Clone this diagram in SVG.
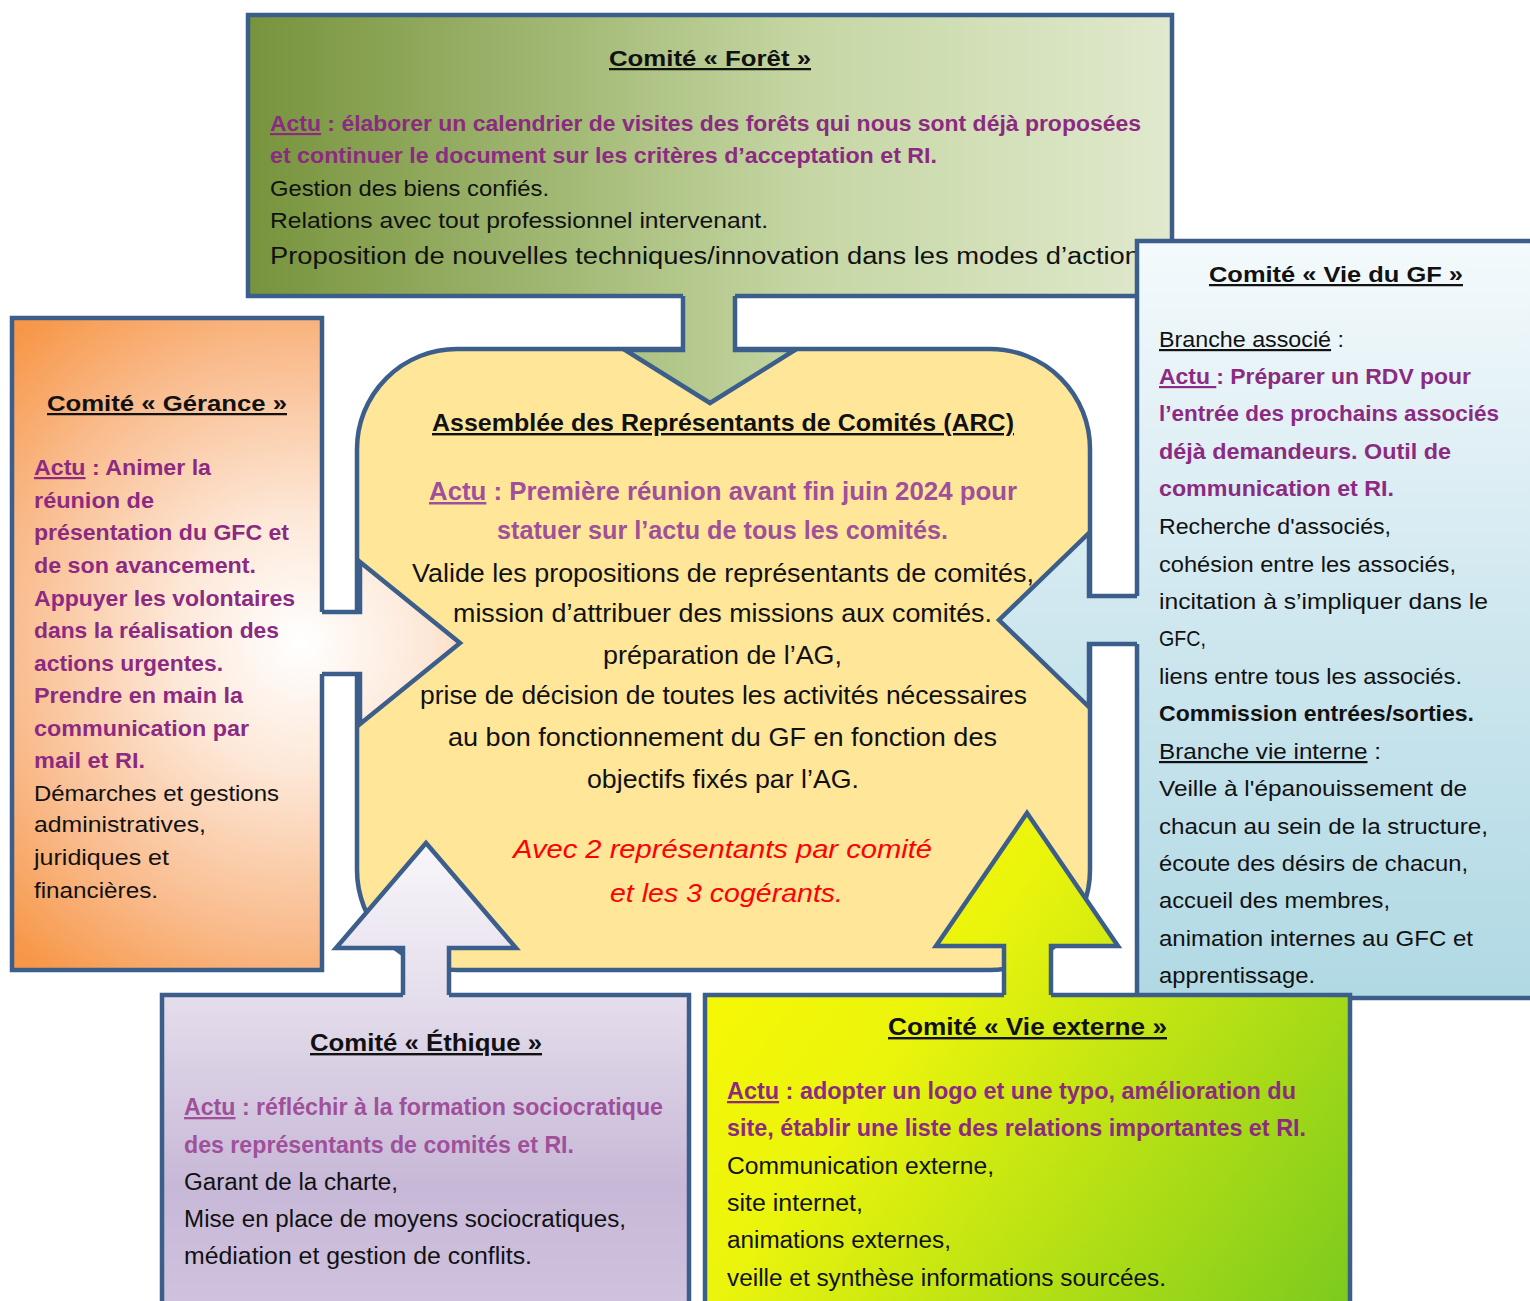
<svg xmlns="http://www.w3.org/2000/svg" width="1530" height="1301" viewBox="0 0 1530 1301">
<defs>
<style>
.t{font-family:"Liberation Sans",Arial,sans-serif;fill:#111}
.b{font-weight:bold}
.p{fill:#8c2a82}
.pl{fill:#a0509a}
.r{fill:#ff0000;font-style:italic}
.u{text-decoration:underline}
.box{stroke:#3c5e8b;stroke-width:4.5}
.ol{fill:none;stroke:#3c5e8b;stroke-width:4.5;stroke-linejoin:miter}
</style>
<linearGradient id="gForet" gradientUnits="userSpaceOnUse" x1="248" y1="0" x2="1172" y2="0">
<stop offset="0" stop-color="#77933c"/>
<stop offset="0.35" stop-color="#a3ba76"/>
<stop offset="0.6" stop-color="#c5d6a3"/>
<stop offset="1" stop-color="#e0e9cd"/>
</linearGradient>
<radialGradient id="gGer" gradientUnits="userSpaceOnUse" cx="300" cy="643" r="420">
<stop offset="0" stop-color="#ffffff"/>
<stop offset="0.3" stop-color="#fde8d8"/>
<stop offset="0.7" stop-color="#f9bb8c"/>
<stop offset="1" stop-color="#f79646"/>
</radialGradient>
<linearGradient id="gVie" gradientUnits="userSpaceOnUse" x1="0" y1="241" x2="0" y2="998">
<stop offset="0" stop-color="#f4fafc"/>
<stop offset="0.5" stop-color="#cfe7ef"/>
<stop offset="1" stop-color="#b0d9e4"/>
</linearGradient>
<linearGradient id="gEth" gradientUnits="userSpaceOnUse" x1="0" y1="843" x2="0" y2="1301">
<stop offset="0" stop-color="#f8f6fa"/>
<stop offset="0.33" stop-color="#e5deec"/>
<stop offset="0.75" stop-color="#c7b8d7"/>
<stop offset="1" stop-color="#cfc2de"/>
</linearGradient>
<linearGradient id="gExt" gradientUnits="userSpaceOnUse" x1="800" y1="900" x2="1350" y2="1301">
<stop offset="0" stop-color="#f5f705"/>
<stop offset="0.25" stop-color="#eaf40c"/>
<stop offset="1" stop-color="#7cca1e"/>
</linearGradient>
</defs>
<rect width="1530" height="1301" fill="#ffffff"/>

<g id="arc-box">
<rect class="box" x="357" y="349" width="733" height="621" rx="100" ry="100" fill="#ffe699"/>
</g>

<g id="comite-foret">
<rect class="box" x="248" y="15" width="924" height="281" fill="url(#gForet)"/>
<text class="t b" x="609" y="66" font-size="22.5" textLength="202" lengthAdjust="spacingAndGlyphs"><tspan class="u">Comité « Forêt »</tspan></text>
<text class="t b p" x="270" y="131" font-size="21.5" textLength="871" lengthAdjust="spacingAndGlyphs"><tspan class="u">Actu</tspan> : élaborer un calendrier de visites des forêts qui nous sont déjà proposées</text>
<text class="t b p" x="270" y="163" font-size="21.5" textLength="667" lengthAdjust="spacingAndGlyphs">et continuer le document sur les critères d’acceptation et RI.</text>
<text class="t" x="270" y="196" font-size="21.5" textLength="279" lengthAdjust="spacingAndGlyphs">Gestion des biens confiés.</text>
<text class="t" x="270" y="228" font-size="21.5" textLength="498" lengthAdjust="spacingAndGlyphs">Relations avec tout professionnel intervenant.</text>
<text class="t" x="270" y="264" font-size="23" textLength="870" lengthAdjust="spacingAndGlyphs">Proposition de nouvelles techniques/innovation dans les modes d’action</text>
</g>

<g id="comite-gerance">
<rect class="box" x="12" y="318" width="310" height="652" fill="url(#gGer)"/>
<text class="t b" x="47" y="411" font-size="22.5" textLength="240" lengthAdjust="spacingAndGlyphs"><tspan class="u">Comité « Gérance »</tspan></text>
<g class="t b p" font-size="22">
<text x="34" y="475" textLength="177" lengthAdjust="spacingAndGlyphs"><tspan class="u">Actu</tspan> : Animer la</text>
<text x="34" y="508" textLength="120" lengthAdjust="spacingAndGlyphs">réunion de</text>
<text x="34" y="540" textLength="255" lengthAdjust="spacingAndGlyphs">présentation du GFC et</text>
<text x="34" y="573" textLength="222" lengthAdjust="spacingAndGlyphs">de son avancement.</text>
<text x="34" y="606" textLength="261" lengthAdjust="spacingAndGlyphs">Appuyer les volontaires</text>
<text x="34" y="638" textLength="245" lengthAdjust="spacingAndGlyphs">dans la réalisation des</text>
<text x="34" y="671" textLength="189" lengthAdjust="spacingAndGlyphs">actions urgentes.</text>
<text x="34" y="703" textLength="209" lengthAdjust="spacingAndGlyphs">Prendre en main la</text>
<text x="34" y="736" textLength="215" lengthAdjust="spacingAndGlyphs">communication par</text>
<text x="34" y="768" textLength="111" lengthAdjust="spacingAndGlyphs">mail et RI.</text>
</g>
<g class="t" font-size="22">
<text x="34" y="801" textLength="245" lengthAdjust="spacingAndGlyphs">Démarches et gestions</text>
<text x="34" y="832" textLength="172" lengthAdjust="spacingAndGlyphs">administratives,</text>
<text x="34" y="865" textLength="135" lengthAdjust="spacingAndGlyphs">juridiques et</text>
<text x="34" y="898" textLength="124" lengthAdjust="spacingAndGlyphs">financières.</text>
</g>
</g>

<g id="comite-vie-du-gf">
<rect class="box" x="1137" y="241" width="400" height="757" fill="url(#gVie)"/>
<text class="t b" x="1209" y="282" font-size="22.5" textLength="254" lengthAdjust="spacingAndGlyphs"><tspan class="u">Comité « Vie du GF »</tspan></text>
<g class="t" font-size="22">
<text x="1159" y="347" textLength="185" lengthAdjust="spacingAndGlyphs"><tspan class="u">Branche associé</tspan> :</text>
<text class="b p" x="1159" y="384" textLength="312" lengthAdjust="spacingAndGlyphs"><tspan class="u">Actu </tspan>: Préparer un RDV pour</text>
<text class="b p" x="1159" y="421" textLength="340" lengthAdjust="spacingAndGlyphs">l’entrée des prochains associés</text>
<text class="b p" x="1159" y="459" textLength="292" lengthAdjust="spacingAndGlyphs">déjà demandeurs. Outil de</text>
<text class="b p" x="1159" y="496" textLength="235" lengthAdjust="spacingAndGlyphs">communication et RI.</text>
<text x="1159" y="534" textLength="232" lengthAdjust="spacingAndGlyphs">Recherche d'associés,</text>
<text x="1159" y="572" textLength="297" lengthAdjust="spacingAndGlyphs">cohésion entre les associés,</text>
<text x="1159" y="609" textLength="329" lengthAdjust="spacingAndGlyphs">incitation à s’impliquer dans le</text>
<text x="1159" y="646" textLength="47" lengthAdjust="spacingAndGlyphs">GFC,</text>
<text x="1159" y="684" textLength="303" lengthAdjust="spacingAndGlyphs">liens entre tous les associés.</text>
<text class="b" x="1159" y="721" textLength="315" lengthAdjust="spacingAndGlyphs">Commission entrées/sorties.</text>
<text x="1159" y="759" textLength="222" lengthAdjust="spacingAndGlyphs"><tspan class="u">Branche vie interne</tspan> :</text>
<text x="1159" y="796" textLength="308" lengthAdjust="spacingAndGlyphs">Veille à l'épanouissement de</text>
<text x="1159" y="834" textLength="329" lengthAdjust="spacingAndGlyphs">chacun au sein de la structure,</text>
<text x="1159" y="871" textLength="309" lengthAdjust="spacingAndGlyphs">écoute des désirs de chacun,</text>
<text x="1159" y="908" textLength="231" lengthAdjust="spacingAndGlyphs">accueil des membres,</text>
<text x="1159" y="946" textLength="314" lengthAdjust="spacingAndGlyphs">animation internes au GFC et</text>
<text x="1159" y="983" textLength="156" lengthAdjust="spacingAndGlyphs">apprentissage.</text>
</g>
</g>

<g id="comite-ethique">
<rect class="box" x="162" y="995" width="527" height="320" fill="url(#gEth)"/>
<text class="t b" x="310" y="1051" font-size="24" textLength="232" lengthAdjust="spacingAndGlyphs"><tspan class="u">Comité « Éthique »</tspan></text>
<text class="t b pl" x="184" y="1115" font-size="23" textLength="479" lengthAdjust="spacingAndGlyphs"><tspan class="u">Actu</tspan> : réfléchir à la formation sociocratique</text>
<text class="t b pl" x="184" y="1153" font-size="23" textLength="390" lengthAdjust="spacingAndGlyphs">des représentants de comités et RI.</text>
<text class="t" x="184" y="1190" font-size="23.5" textLength="214" lengthAdjust="spacingAndGlyphs">Garant de la charte,</text>
<text class="t" x="184" y="1227" font-size="23.5" textLength="442" lengthAdjust="spacingAndGlyphs">Mise en place de moyens sociocratiques,</text>
<text class="t" x="184" y="1264" font-size="23.5" textLength="348" lengthAdjust="spacingAndGlyphs">médiation et gestion de conflits.</text>
</g>

<g id="comite-vie-externe">
<rect class="box" x="705" y="995" width="645" height="320" fill="url(#gExt)"/>
<text class="t b" x="888" y="1035" font-size="24" textLength="279" lengthAdjust="spacingAndGlyphs"><tspan class="u">Comité « Vie externe »</tspan></text>
<text class="t b p" x="727" y="1099" font-size="23" textLength="569" lengthAdjust="spacingAndGlyphs"><tspan class="u">Actu</tspan> : adopter un logo et une typo, amélioration du</text>
<text class="t b p" x="727" y="1136" font-size="23" textLength="579" lengthAdjust="spacingAndGlyphs">site, établir une liste des relations importantes et RI.</text>
<text class="t" x="727" y="1174" font-size="23" textLength="267" lengthAdjust="spacingAndGlyphs">Communication externe,</text>
<text class="t" x="727" y="1211" font-size="23" textLength="136" lengthAdjust="spacingAndGlyphs">site internet,</text>
<text class="t" x="727" y="1248" font-size="23" textLength="224" lengthAdjust="spacingAndGlyphs">animations externes,</text>
<text class="t" x="727" y="1286" font-size="23" textLength="439" lengthAdjust="spacingAndGlyphs">veille et synthèse informations sourcées.</text>
</g>

<g id="connectors">
<polygon points="683,290 683,350 625,350 710,403 795,350 735,350 735,290" fill="url(#gForet)"/>
<polyline class="ol" points="683,296 683,350 625,350 710,403 795,350 735,350 735,296"/>
<polygon points="316,612 360,612 360,562 460,643 360,724 360,674 316,674" fill="url(#gGer)"/>
<polyline class="ol" points="322,612 360,612 360,562 460,643 360,724 360,674 322,674"/>
<polygon points="1143,596 1089,596 1089,533 999,620 1089,707 1089,644 1143,644" fill="url(#gVie)"/>
<polyline class="ol" points="1137,596 1089,596 1089,533 999,620 1089,707 1089,644 1137,644"/>
<polygon points="403,1001 403,948 336,948 426,843 516,948 449,948 449,1001" fill="url(#gEth)"/>
<polyline class="ol" points="403,995 403,948 336,948 426,843 516,948 449,948 449,995"/>
<polygon points="1004,1001 1004,946 936,946 1027,813 1118,946 1051,946 1051,1001" fill="url(#gExt)"/>
<polyline class="ol" points="1004,995 1004,946 936,946 1027,813 1118,946 1051,946 1051,995"/>
</g>

<g id="arc-text">
<text class="t b" x="432" y="431" font-size="24" textLength="582" lengthAdjust="spacingAndGlyphs"><tspan class="u">Assemblée des Représentants de Comités (ARC)</tspan></text>
<text class="t b pl" x="429" y="500" font-size="25" textLength="588" lengthAdjust="spacingAndGlyphs"><tspan class="u">Actu</tspan> : Première réunion avant fin juin 2024 pour</text>
<text class="t b pl" x="497" y="539" font-size="25" textLength="451" lengthAdjust="spacingAndGlyphs">statuer sur l’actu de tous les comités.</text>
<text class="t" x="412" y="582" font-size="25.5" textLength="622" lengthAdjust="spacingAndGlyphs">Valide les propositions de représentants de comités,</text>
<text class="t" x="453" y="622" font-size="25.5" textLength="539" lengthAdjust="spacingAndGlyphs">mission d’attribuer des missions aux comités.</text>
<text class="t" x="603" y="664" font-size="25.5" textLength="239" lengthAdjust="spacingAndGlyphs">préparation de l’AG,</text>
<text class="t" x="420" y="704" font-size="25.5" textLength="607" lengthAdjust="spacingAndGlyphs">prise de décision de toutes les activités nécessaires</text>
<text class="t" x="448" y="746" font-size="25.5" textLength="549" lengthAdjust="spacingAndGlyphs">au bon fonctionnement du GF en fonction des</text>
<text class="t" x="587" y="788" font-size="25.5" textLength="272" lengthAdjust="spacingAndGlyphs">objectifs fixés par l’AG.</text>
<text class="t r" x="513" y="858" font-size="26" textLength="419" lengthAdjust="spacingAndGlyphs">Avec 2 représentants par comité</text>
<text class="t r" x="610" y="902" font-size="26" textLength="233" lengthAdjust="spacingAndGlyphs">et les 3 cogérants.</text>
</g>
</svg>
